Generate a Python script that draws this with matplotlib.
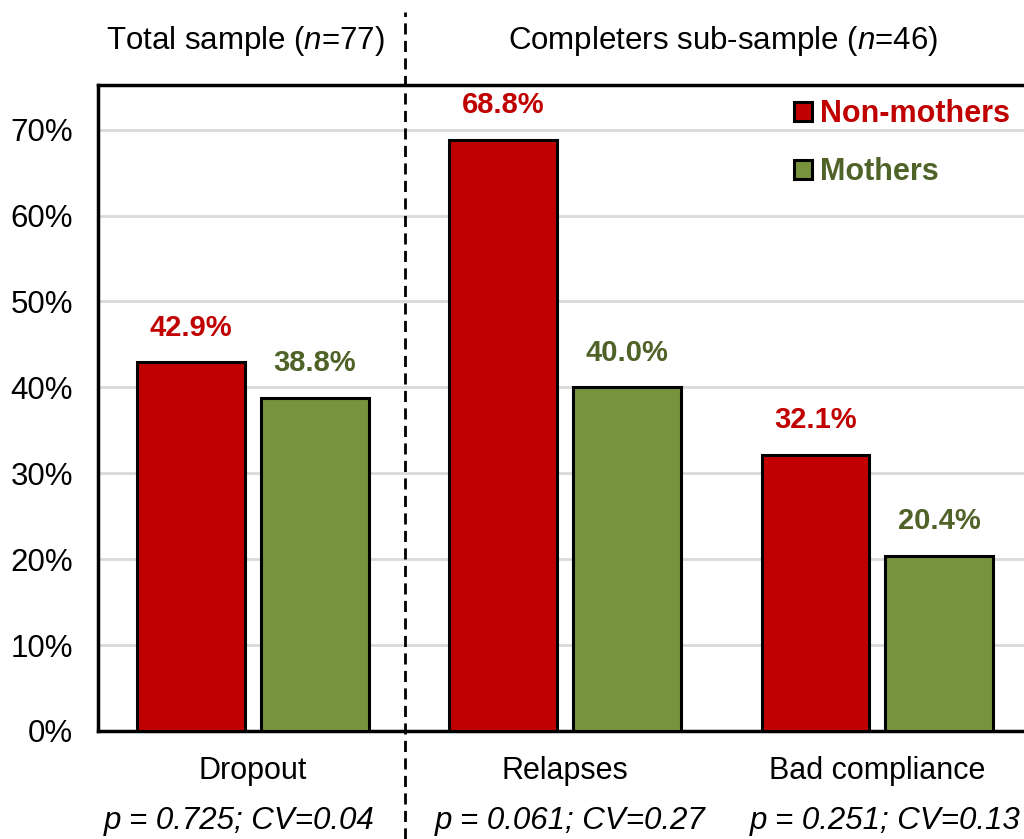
import matplotlib
matplotlib.use("Agg")
import matplotlib.pyplot as plt
from matplotlib.lines import Line2D
import numpy as np

categories = ["Dropout", "Relapses", "Bad compliance"]
stats_labels = ["p = 0.725; CV=0.04", "p = 0.061; CV=0.27", "p = 0.251; CV=0.13"]
non_mothers = [42.9, 68.8, 32.1]
mothers = [38.8, 40.0, 20.4]
headers = ["Total sample ($\\mathit{n}$=77)", "Completers sub-sample ($\\mathit{n}$=46)"]
yticks = [0, 10, 20, 30, 40, 50, 60, 70]

RED = "#c00000"
GREEN = "#77933c"
DKGREEN = "#4f6228"

plt.rcParams["font.family"] = ["Liberation Sans", "DejaVu Sans"]
plt.rcParams["mathtext.fontset"] = "custom"
plt.rcParams["mathtext.it"] = "Liberation Sans:italic"
plt.rcParams["mathtext.rm"] = "Liberation Sans"

fig = plt.figure(figsize=(10.24, 8.39), dpi=100)
ax = fig.add_axes([98 / 1024, 1 - 731 / 839, (1045 - 98) / 1024, (731 - 85) / 839])

x = np.arange(len(categories))
w = 0.345
b1 = ax.bar(x - 0.198, non_mothers, w, color=RED, edgecolor="black", linewidth=2.2,
            label="Non-mothers", zorder=3)
b2 = ax.bar(x + 0.198, mothers, w, color=GREEN, edgecolor="black", linewidth=2.2,
            label="Mothers", zorder=3)

for bars, vals, c in [(b1, non_mothers, RED), (b2, mothers, DKGREEN)]:
    for r, v in zip(bars, vals):
        ax.annotate(f"{v:.1f}%", (r.get_x() + r.get_width() / 2, v),
                    xytext=(0, 15), textcoords="offset points", ha="center", va="bottom",
                    fontsize=21, fontweight="bold", color=c)

ax.set_xlim(-0.497, 2.538)
ax.set_ylim(0, 75.2)
ax.set_yticks(yticks)
ax.set_yticklabels([f"{t}%" for t in yticks])
ax.tick_params(axis="y", length=0, pad=18, labelsize=22.5)
ax.set_xticks([])
ax.yaxis.grid(True, color="#d9d9d9", linewidth=2, zorder=0)
ax.set_axisbelow(True)
for s in ax.spines.values():
    s.set_linewidth(2.5)
    s.set_color("black")

# p-value lines sit a little off-centre in the original
stats_shift = [-0.045, 0.015, 0.025]
for i, (c, s) in enumerate(zip(categories, stats_labels)):
    ax.text(x[i], -0.062, c, transform=ax.get_xaxis_transform(), ha="center", va="center",
            fontsize=22)
    ax.text(x[i] + stats_shift[i], -0.139, s, transform=ax.get_xaxis_transform(),
            ha="center", va="center", fontsize=22.5, style="italic")

fig.text(245 / 1024, 1 - 41 / 839, headers[0], ha="center", va="center", fontsize=22.5)
fig.text(723 / 1024, 1 - 41 / 839, headers[1], ha="center", va="center", fontsize=22.5)

fig.add_artist(Line2D([405 / 1024, 405 / 1024], [0, 1 - 12 / 839], transform=fig.transFigure,
                      color="black", linewidth=2, linestyle=(0, (4, 2.3)), zorder=10))

leg = ax.legend(loc="upper left", bbox_to_anchor=(794 / 1024, 1 - 99 / 839),
                bbox_transform=fig.transFigure, frameon=False, handlelength=0.6,
                handleheight=0.6, handletextpad=0.25, labelspacing=0.92,
                labelcolor=[RED, DKGREEN], prop={"size": 22, "weight": "bold"},
                borderaxespad=0, borderpad=0)

fig.savefig("out.png", dpi=100)
